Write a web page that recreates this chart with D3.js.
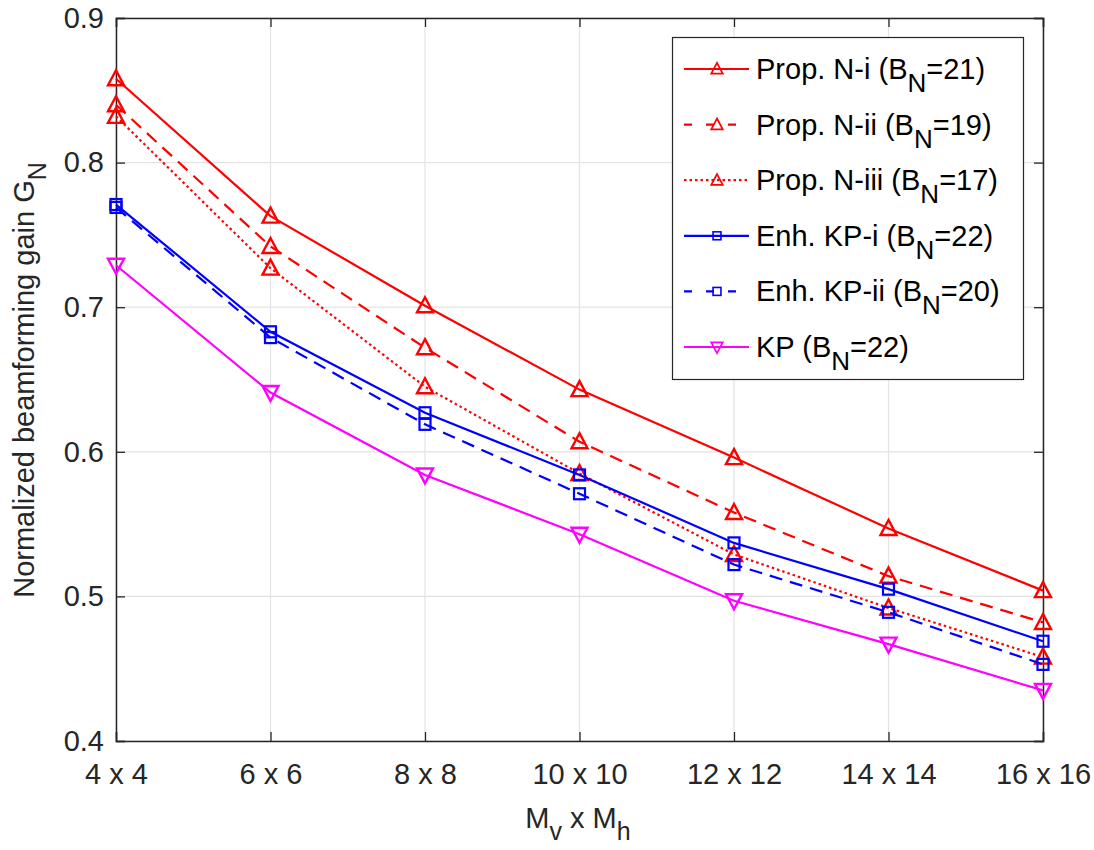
<!DOCTYPE html>
<html><head><meta charset="utf-8">
<script src="https://cdn.jsdelivr.net/npm/d3@7"></script>
<style>body{margin:0;background:#fff}svg{font-family:"Liberation Sans",Arial,sans-serif}</style>
</head><body>
<svg id="c" width="1094" height="850"></svg>
<script>
const categories = ["4 x 4","6 x 6","8 x 8","10 x 10","12 x 12","14 x 14","16 x 16"];
const yTicks = [0.4,0.5,0.6,0.7,0.8,0.9];
const propNi   = [0.858,0.763,0.701,0.643,0.596,0.547,0.504];
const propNii  = [0.840,0.742,0.672,0.607,0.558,0.514,0.482];
const propNiii = [0.832,0.727,0.645,0.585,0.529,0.492,0.458];
const enhKPi   = [0.771,0.683,0.627,0.584,0.537,0.505,0.469];
const enhKPii  = [0.769,0.679,0.619,0.571,0.522,0.489,0.453];
const kp       = [0.729,0.641,0.584,0.543,0.497,0.467,0.435];
const seriesNames = ["Prop. N-i","Prop. N-ii","Prop. N-iii","Enh. KP-i","Enh. KP-ii","KP"];
const seriesBN = ["21","19","17","22","20","22"];

const series = [
  {name:seriesNames[0], bn:seriesBN[0], v:propNi,   color:"#ff0000", dash:null,  marker:"up"},
  {name:seriesNames[1], bn:seriesBN[1], v:propNii,  color:"#ff0000", dash:"13,8", marker:"up"},
  {name:seriesNames[2], bn:seriesBN[2], v:propNiii, color:"#ff0000", dash:"2.5,3", marker:"up"},
  {name:seriesNames[3], bn:seriesBN[3], v:enhKPi,   color:"#0000ff", dash:null,  marker:"sq"},
  {name:seriesNames[4], bn:seriesBN[4], v:enhKPii,  color:"#0000ff", dash:"13,8", marker:"sq"},
  {name:seriesNames[5], bn:seriesBN[5], v:kp,       color:"#ff00ff", dash:null,  marker:"down"}
];

const L=116,R=1043,T=18,B=741;
const FONT="Liberation Sans, Arial, sans-serif";
const svg=d3.select("#c");
const x=d3.scalePoint().domain(categories).range([L,R]);
const y=d3.scaleLinear().domain([0.4,0.9]).range([B,T]);

// grid
const g=svg.append("g");
g.selectAll(".gx").data(categories).enter().append("line")
 .attr("x1",d=>x(d)).attr("x2",d=>x(d)).attr("y1",T).attr("y2",B)
 .attr("stroke","#e3e3e3").attr("stroke-width",1.2);
g.selectAll(".gy").data(yTicks).enter().append("line")
 .attr("x1",L).attr("x2",R).attr("y1",d=>y(d)).attr("y2",d=>y(d))
 .attr("stroke","#e3e3e3").attr("stroke-width",1.2);

// axes
const ax=svg.append("g").attr("transform",`translate(0,${B})`)
 .call(d3.axisBottom(x).tickSize(-9).tickPadding(22));
const ay=svg.append("g").attr("transform",`translate(${L},0)`)
 .call(d3.axisLeft(y).tickValues(yTicks).tickFormat(d3.format(".1f")).tickSize(-9).tickPadding(12));
const axT=svg.append("g").attr("transform",`translate(0,${T})`)
 .call(d3.axisTop(x).tickSize(-9).tickFormat(""));
const ayR=svg.append("g").attr("transform",`translate(${R},0)`)
 .call(d3.axisRight(y).tickValues(yTicks).tickSize(-9).tickFormat(""));
[ax,ay,axT,ayR].forEach(a=>{
  a.attr("font-size",29).attr("font-family",FONT);
  a.select(".domain").attr("stroke","#262626").attr("stroke-width",1.5);
  a.selectAll(".tick line").attr("stroke","#262626").attr("stroke-width",1.3);
  a.selectAll(".tick text").attr("fill","#262626");
});

// lines
const line=d3.line().x((d,i)=>x(categories[i])).y(d=>y(d));
function marker(sel,m,color){
  if(m==="sq"){
    sel.append("rect").attr("x",-5.5).attr("y",-5.5).attr("width",11).attr("height",11)
      .attr("fill","none").attr("stroke",color).attr("stroke-width",2.2);
  } else {
    const p = m==="up" ? "M0,-8.5 L8,6.5 L-8,6.5 Z" : "M0,8.5 L8,-6.5 L-8,-6.5 Z";
    sel.append("path").attr("d",p).attr("fill","none").attr("stroke",color).attr("stroke-width",2.4);
  }
}
series.forEach(s=>{
  svg.append("path").attr("d",line(s.v)).attr("fill","none").attr("stroke",s.color)
    .attr("stroke-width",2.2).attr("stroke-dasharray",s.dash);
  s.v.forEach((v,i)=>{
    const m=svg.append("g").attr("transform",`translate(${x(categories[i])},${y(v)})`);
    marker(m,s.marker,s.color);
  });
});

// legend
const lg=svg.append("g");
lg.append("rect").attr("x",672.5).attr("y",37.5).attr("width",351).attr("height",342)
  .attr("fill","#fff").attr("stroke","#262626").attr("stroke-width",1.2);
series.forEach((s,i)=>{
  const yy=69+i*55.6;
  lg.append("line").attr("x1",684).attr("x2",749).attr("y1",yy).attr("y2",yy)
    .attr("stroke",s.color).attr("stroke-width",2.2).attr("stroke-dasharray",s.dash?(s.dash==="13,8"?"8,14":"2.5,3"):null);
  const m=lg.append("g").attr("transform",`translate(717,${yy}) scale(0.72)`);
  marker(m,s.marker,s.color);
  const t=lg.append("text").attr("x",756).attr("y",yy+10).attr("font-size",29).attr("fill","#000").attr("font-family",FONT);
  t.append("tspan").text(s.name+" (B");
  t.append("tspan").attr("font-size",26).attr("dy",13).text("N");
  t.append("tspan").attr("dy",-13).text("="+s.bn+")");
});

// axis labels
const xl=svg.append("text").attr("x",578).attr("y",828).attr("text-anchor","middle").attr("font-size",29).attr("fill","#262626").attr("font-family",FONT);
xl.append("tspan").text("M");
xl.append("tspan").attr("font-size",25).attr("dy",12).text("v");
xl.append("tspan").attr("dy",-12).text(" x M");
xl.append("tspan").attr("font-size",25).attr("dy",12).text("h");

const yl=svg.append("text").attr("transform","translate(34,380) rotate(-90)").attr("text-anchor","middle").attr("font-size",29).attr("fill","#262626").attr("font-family",FONT);
yl.append("tspan").text("Normalized beamforming gain G");
yl.append("tspan").attr("font-size",25).attr("dy",12).text("N");
</script>
</body></html>
